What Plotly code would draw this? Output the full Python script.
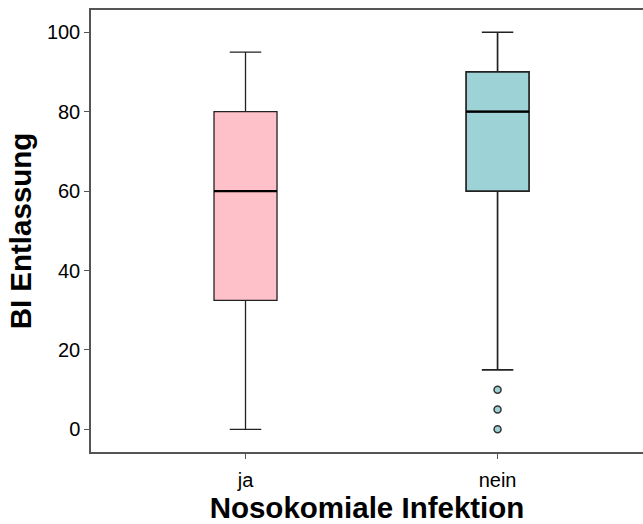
import plotly.graph_objects as go

# Groups and five-number summaries of "BI Entlassung"
categories = ["ja", "nein"]
lower_whisker = [0, 15]
q1_values = [32.5, 60]
median_values = [60, 80]
q3_values = [80, 90]
upper_whisker = [95, 100]
outliers_nein = [10, 5, 0]

fill_colors = ["#FFC1C9", "#9DD2D7"]
edge_widths = [1.3, 1.7]
box_width = 0.25

positions = list(range(len(categories)))

fig = go.Figure()

for i, cat in enumerate(categories):
    fig.add_trace(go.Box(
        x=[positions[i]],
        q1=[q1_values[i]],
        median=[median_values[i]],
        q3=[q3_values[i]],
        lowerfence=[lower_whisker[i]],
        upperfence=[upper_whisker[i]],
        width=box_width,
        whiskerwidth=0.5,
        fillcolor=fill_colors[i],
        line=dict(color="#222222", width=edge_widths[i]),
        boxpoints=False,
        name=cat,
        showlegend=False,
        hoverinfo="skip",
    ))
    # thicker median bar
    fig.add_trace(go.Scatter(
        x=[positions[i] - box_width / 2, positions[i] + box_width / 2],
        y=[median_values[i], median_values[i]],
        mode="lines",
        line=dict(color="#000000", width=2.4),
        showlegend=False,
        hoverinfo="skip",
    ))

fig.add_trace(go.Scatter(
    x=[positions[1]] * len(outliers_nein),
    y=outliers_nein,
    mode="markers",
    marker=dict(size=7, color=fill_colors[1], line=dict(color="#333333", width=1.5)),
    showlegend=False,
    hoverinfo="skip",
))

axis_font = dict(family="Liberation Sans, Arial, sans-serif", size=20, color="#000000")
title_font = dict(family="Liberation Sans, Arial, sans-serif", size=29.5, color="#000000")

fig.update_layout(
    width=643,
    height=524,
    margin=dict(l=91, r=0, t=10, b=72),
    paper_bgcolor="white",
    plot_bgcolor="white",
    xaxis=dict(
        range=[-0.613, 1.577],
        tickmode="array",
        tickvals=positions,
        ticktext=categories,
        showgrid=False,
        zeroline=False,
        showline=True,
        mirror=True,
        linecolor="#555555",
        linewidth=1.5,
        ticks="outside",
        ticklen=5,
        tickcolor="#555555",
        tickfont=axis_font,
        ticklabelstandoff=4,
        title=dict(text="<b>Nosokomiale Infektion</b>", font=title_font, standoff=12),
    ),
    yaxis=dict(
        range=[-5.7, 105.6],
        tickvals=[0, 20, 40, 60, 80, 100],
        showgrid=False,
        zeroline=False,
        showline=True,
        mirror=False,
        linecolor="#555555",
        linewidth=1.5,
        ticks="outside",
        ticklen=5,
        tickcolor="#555555",
        tickfont=axis_font,
        title=dict(text="<b>BI Entlassung</b>", font=title_font, standoff=7),
    ),
)

fig.write_html("out.html")
